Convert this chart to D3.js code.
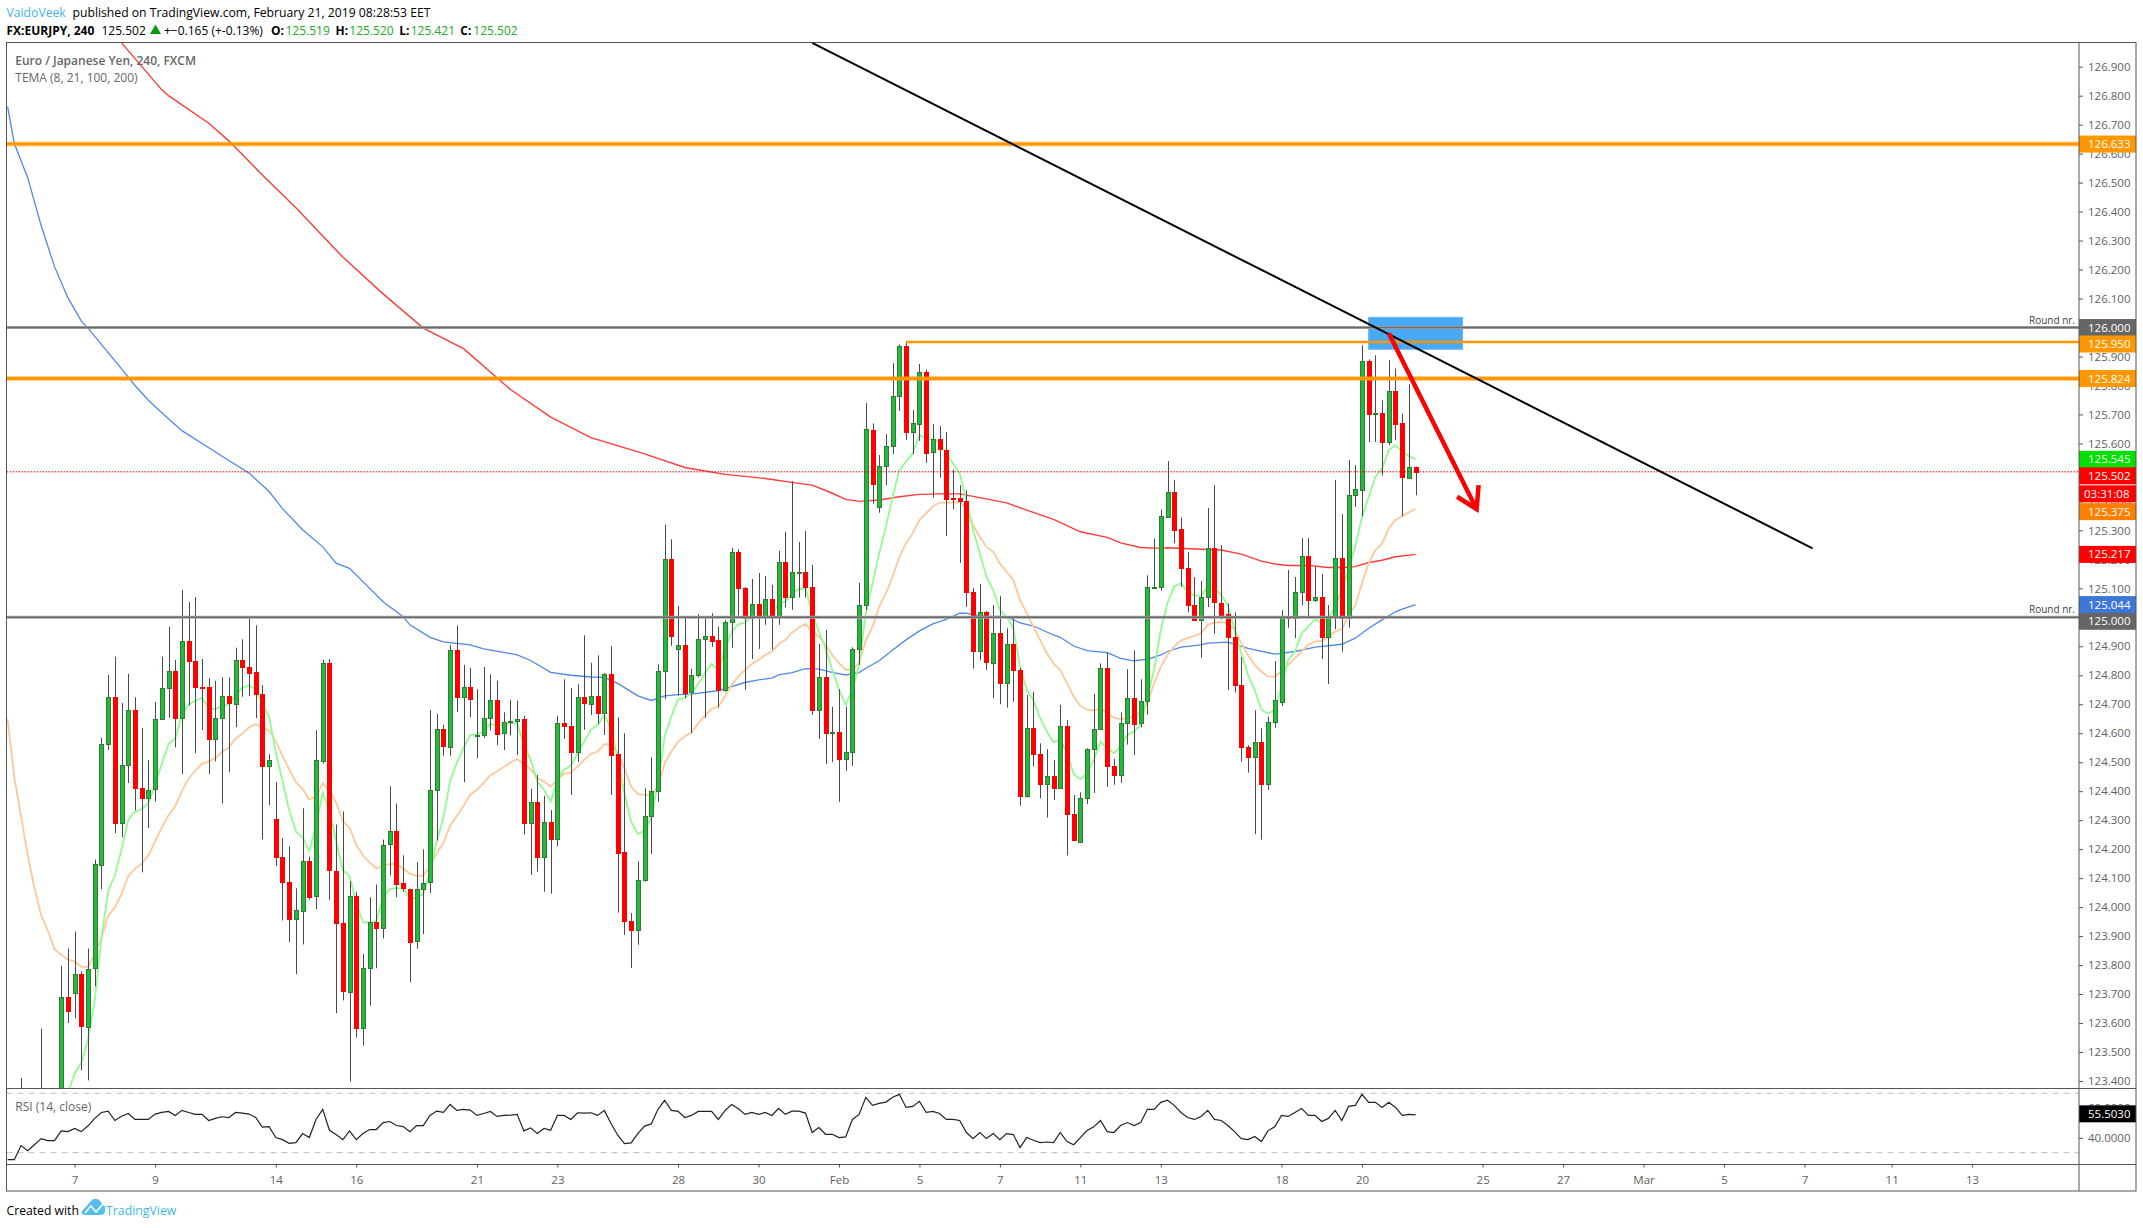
<!DOCTYPE html>
<html><head><meta charset="utf-8">
<script src="https://cdn.jsdelivr.net/npm/d3@7"></script>
<style>html,body{margin:0;padding:0;background:#fff}svg{display:block}
text{font-family:"Open Sans","Liberation Sans",sans-serif}</style></head>
<body><script>
const opens=[123.20,123.15,123.10,123.30,123.20,123.28,123.34,123.30,123.33,123.691,
123.703,123.768,123.589,123.788,124.146,124.561,124.724,124.288,124.489,124.680,
124.412,124.377,124.405,124.647,124.754,124.814,124.651,124.917,124.848,124.758,
124.758,124.578,124.651,124.727,124.703,124.854,124.830,124.810,124.734,124.487,
124.305,124.174,124.087,123.959,123.987,124.160,124.036,124.505,124.841,124.125,
123.946,123.710,124.040,123.583,123.790,123.950,123.928,124.215,124.261,124.082,
124.064,123.883,124.064,124.084,124.403,124.613,124.553,124.886,124.723,124.758,
124.593,124.594,124.651,124.714,124.599,124.638,124.641,124.648,124.288,124.362,
124.171,124.293,124.233,124.635,124.624,124.533,124.724,124.702,124.728,124.668,
124.804,124.528,124.189,123.952,123.921,124.092,124.314,124.399,124.813,125.201,
124.889,124.904,124.740,124.799,124.923,124.936,124.921,124.747,124.982,125.224,
125.100,124.996,125.045,125.000,125.062,125.002,125.190,125.068,125.154,125.155,
125.104,124.678,124.793,124.601,124.603,124.509,124.533,124.889,125.040,125.648,
125.379,125.521,125.590,125.762,125.935,125.637,125.669,125.848,125.568,125.614,
125.579,125.411,125.410,125.400,125.086,124.881,125.017,124.843,124.945,124.771,
124.907,124.818,124.382,124.617,124.527,124.423,124.452,124.409,124.624,124.321,
124.224,124.376,124.545,124.614,124.824,124.486,124.454,124.634,124.721,124.633,
124.709,125.101,125.102,125.347,125.434,125.303,125.169,125.041,124.988,125.068,
125.238,125.051,125.011,124.931,124.765,124.551,124.516,124.568,124.422,124.636,
124.706,125.003,124.995,125.085,125.210,125.057,125.069,124.930,124.999,125.203,
124.996,125.421,125.441,125.886,125.702,125.706,125.605,125.782,125.669,125.481,125.519];
const closes=[123.15,123.10,123.30,123.20,123.28,123.34,123.30,123.33,123.691,123.644,
123.768,123.589,123.788,124.147,124.562,124.724,124.288,124.489,124.680,124.412,
124.377,124.405,124.648,124.755,124.814,124.651,124.917,124.848,124.758,124.756,
124.578,124.651,124.727,124.702,124.854,124.830,124.809,124.734,124.487,124.506,
124.174,124.087,123.959,123.989,124.160,124.036,124.506,124.842,124.125,123.946,
123.710,124.040,123.583,123.790,123.950,123.928,124.215,124.261,124.078,124.064,
123.881,124.064,124.084,124.403,124.613,124.553,124.886,124.723,124.758,124.716,
124.594,124.651,124.714,124.598,124.638,124.641,124.648,124.288,124.362,124.171,
124.293,124.233,124.635,124.623,124.533,124.724,124.702,124.728,124.668,124.804,
124.526,124.188,123.952,123.921,124.093,124.314,124.400,124.814,125.201,124.934,
124.904,124.740,124.800,124.924,124.935,124.920,124.747,124.983,125.224,125.099,
124.996,125.045,124.999,125.062,125.002,125.190,125.068,125.155,125.155,125.103,
124.678,124.793,124.599,124.603,124.509,124.534,124.890,125.042,125.649,125.462,
125.521,125.590,125.762,125.935,125.637,125.669,125.848,125.568,125.614,125.578,
125.409,125.409,125.399,125.085,124.881,125.017,124.843,124.945,124.772,124.907,
124.816,124.382,124.617,124.526,124.423,124.452,124.409,124.624,124.319,124.230,
124.376,124.545,124.614,124.824,124.485,124.454,124.634,124.721,124.633,124.710,
125.104,125.104,125.348,125.434,125.302,125.168,125.040,124.988,125.069,125.238,
125.050,125.009,124.930,124.764,124.550,124.516,124.568,124.422,124.637,124.713,
125.003,124.995,125.086,125.210,125.057,125.069,124.930,125.000,125.203,124.996,
125.421,125.441,125.886,125.702,125.705,125.605,125.782,125.667,125.481,125.520,125.502];
const highs=[123.28,123.22,123.41,123.34,123.33,123.58,123.36,123.36,123.798,123.857,
123.916,123.778,123.857,124.164,124.585,124.801,124.864,124.704,124.805,124.724,
124.617,124.507,124.708,124.864,124.967,124.853,125.095,125.053,125.070,124.856,
124.790,124.781,124.793,124.793,124.895,124.924,125.000,124.972,124.766,124.527,
124.431,124.238,124.210,124.065,124.341,124.174,124.610,124.853,124.856,124.285,
124.330,124.089,124.053,123.839,124.034,124.078,124.233,124.417,124.358,124.179,
124.064,124.155,124.199,124.680,124.667,124.629,124.904,124.972,124.836,124.825,
124.752,124.829,124.803,124.781,124.672,124.715,124.712,124.660,124.408,124.456,
124.384,124.335,124.660,124.786,124.756,124.769,124.938,124.843,124.869,124.807,
124.900,124.655,124.600,123.979,124.158,124.410,124.517,124.838,125.319,125.269,
125.039,124.999,124.822,125.011,124.999,125.014,124.967,124.990,125.239,125.235,
125.104,125.132,125.153,125.143,125.112,125.229,125.295,125.470,125.260,125.298,
125.181,124.908,124.957,124.691,124.752,124.691,124.896,125.119,125.739,125.669,
125.560,125.632,125.877,125.942,125.947,125.715,125.874,125.855,125.667,125.660,
125.639,125.510,125.456,125.438,125.102,125.115,125.022,125.042,125.073,124.962,
124.999,124.825,124.732,124.743,124.565,124.545,124.508,124.698,124.645,124.387,
124.396,124.548,124.736,124.841,124.879,124.511,124.672,124.821,124.886,124.786,
125.145,125.272,125.372,125.539,125.474,125.345,125.225,125.139,125.125,125.377,
125.456,125.249,125.048,125.017,124.863,124.559,124.679,124.617,124.657,124.849,
125.025,125.163,125.139,125.273,125.273,125.175,125.149,125.042,125.474,125.356,
125.543,125.525,125.939,125.890,125.904,125.749,125.887,125.858,125.703,125.804,125.520];
const lows=[123.12,123.05,123.05,123.15,123.15,123.25,123.20,123.25,123.25,123.600,
123.616,123.437,123.402,123.727,124.062,124.542,124.255,124.241,124.428,124.334,
124.120,124.273,124.364,124.647,124.653,124.551,124.459,124.696,124.531,124.610,
124.459,124.503,124.358,124.466,124.621,124.726,124.728,124.652,124.234,124.352,
124.141,123.954,123.879,123.768,123.871,124.026,123.993,124.495,124.024,123.634,
123.678,123.398,123.550,123.522,123.660,123.789,123.892,124.109,124.034,124.053,
123.741,123.856,123.906,124.049,124.230,124.522,124.522,124.673,124.431,124.656,
124.513,124.584,124.609,124.559,124.542,124.592,124.525,124.250,124.111,124.122,
124.053,124.047,124.209,124.580,124.387,124.501,124.612,124.663,124.632,124.594,
124.387,123.981,123.904,123.790,123.870,124.088,124.184,124.364,124.718,124.902,
124.730,124.722,124.601,124.792,124.653,124.898,124.689,124.743,124.894,125.005,
124.750,124.856,124.891,124.974,124.888,124.974,125.034,125.026,125.068,125.068,
124.663,124.580,124.494,124.500,124.363,124.470,124.487,124.836,125.025,125.392,
125.361,125.456,125.563,125.712,125.611,125.563,125.609,125.533,125.413,125.482,
125.281,125.373,125.188,125.036,124.823,124.852,124.818,124.72,124.70,124.689,
124.709,124.350,124.378,124.485,124.375,124.309,124.370,124.409,124.178,124.230,
124.224,124.356,124.394,124.611,124.415,124.422,124.429,124.561,124.525,124.620,
124.664,125.100,125.092,125.344,125.256,125.105,125.018,124.988,124.861,125.035,
124.943,124.992,124.749,124.740,124.502,124.464,124.252,124.233,124.404,124.619,
124.694,124.964,124.928,125.042,125.002,125.053,124.856,124.770,124.959,124.881,
124.964,125.381,125.349,125.605,125.605,125.489,125.594,125.611,125.349,125.481,125.421];

// TEMA 8, one value per candle from candle 9
const tema8First=9;
const tema8=[123.36,123.426,123.463,123.544,123.678,123.892,124.056,124.109,124.200,124.301,124.330,
124.337,124.359,124.421,124.495,124.562,124.582,124.663,124.699,124.712,124.723,
124.685,124.683,124.694,124.699,124.730,124.756,124.766,124.750,124.703,124.656,
124.535,124.435,124.334,124.261,124.241,124.194,124.281,124.395,124.334,124.227,
124.127,124.107,124.013,123.948,123.946,123.952,124.033,124.062,124.066,124.064,
124.029,124.033,124.046,124.120,124.227,124.308,124.435,124.498,124.549,124.594,
124.596,124.605,124.632,124.626,124.631,124.635,124.635,124.560,124.508,124.433,
124.405,124.364,124.439,124.474,124.487,124.531,124.571,124.612,124.629,124.663,
124.617,124.508,124.393,124.295,124.252,124.264,124.307,124.428,124.589,124.658,
124.718,124.721,124.738,124.770,124.807,124.839,124.818,124.888,124.951,124.976,
124.982,125.002,124.999,125.000,125.008,125.048,125.054,125.083,125.097,125.100,
125.014,124.951,124.893,124.819,124.750,124.698,124.750,124.836,125.014,125.117,
125.221,125.312,125.416,125.508,125.537,125.566,125.629,125.617,125.614,125.606,
125.566,125.531,125.497,125.405,125.301,125.221,125.140,125.094,125.025,125.002,
124.962,124.829,124.749,124.715,124.652,124.606,124.569,124.577,124.531,124.459,
124.441,124.462,124.508,124.571,124.548,124.531,124.554,124.594,124.606,124.629,
124.726,124.819,124.957,125.049,125.106,125.118,125.089,125.075,125.075,125.106,
125.100,125.077,125.043,124.957,124.876,124.801,124.749,124.681,124.667,124.681,
124.761,124.853,124.882,124.945,124.968,124.993,124.980,124.997,125.037,125.095,
125.164,125.244,125.346,125.415,125.484,125.513,125.577,125.594,125.571,125.556,125.545];
// TEMA 21, one value per candle
const tema21=[124.649,124.448,124.314,124.180,124.066,123.973,123.919,123.855,123.836,123.819,
123.812,123.794,123.794,123.839,123.892,123.970,123.999,124.046,124.107,124.133,
124.149,124.178,124.227,124.274,124.317,124.348,124.401,124.444,124.471,124.495,
124.502,124.515,124.535,124.551,124.581,124.598,124.620,124.631,124.621,124.609,
124.572,124.522,124.475,124.431,124.407,124.372,124.381,124.428,124.401,124.361,
124.297,124.274,124.214,124.178,124.154,124.133,124.144,124.149,124.147,124.133,
124.115,124.108,124.109,124.140,124.187,124.221,124.281,124.314,124.350,124.388,
124.405,124.428,124.455,124.468,124.483,124.499,124.510,124.494,124.476,124.445,
124.433,124.416,124.439,124.460,124.464,124.485,124.508,124.529,124.537,124.562,
124.562,124.531,124.479,124.416,124.390,124.387,124.386,124.416,124.497,124.537,
124.571,124.589,124.602,124.634,124.660,124.684,124.692,124.727,124.767,124.796,
124.819,124.839,124.853,124.870,124.882,124.908,124.922,124.947,124.965,124.977,
124.951,124.934,124.905,124.870,124.842,124.819,124.819,124.842,124.921,124.967,
125.037,125.083,125.140,125.209,125.255,125.290,125.336,125.359,125.382,125.396,
125.396,125.396,125.399,125.376,125.318,125.278,125.243,125.226,125.186,125.157,
125.129,125.060,125.014,124.968,124.921,124.876,124.841,124.818,124.773,124.727,
124.695,124.681,124.678,124.686,124.669,124.654,124.649,124.652,124.657,124.675,
124.703,124.773,124.830,124.870,124.899,124.920,124.928,124.936,124.945,124.974,
124.982,124.983,124.980,124.957,124.911,124.870,124.836,124.813,124.795,124.795,
124.813,124.836,124.859,124.882,124.905,124.916,124.919,124.933,124.951,124.959,
125.008,125.040,125.117,125.186,125.232,125.255,125.307,125.336,125.349,125.362,125.375];
// TEMA 100, read at its bends
const tema100Idx=[0,1,3,5,7,9,11,12,15,17,19,21,23,26,30,33,36,39,41,44,47,49,51,53,56,59,60,63,65,69,71,74,76,78,81,84,87,89,91,94,96,98,100,102,105,106,110,112,114,115,117,119,121,123,125,127,128,130,132,134,136,138,140,142,143,144,146,149,151,153,156,157,159,161,164,166,168,170,172,173,175,178,179,182,185,189,192,195,199,201,203,205,207,208,210];
const tema100=[126.762,126.635,126.517,126.352,126.210,126.102,126.022,125.998,125.913,125.857,125.800,125.749,125.706,125.644,125.585,125.541,125.498,125.434,125.375,125.302,125.243,125.187,125.169,125.123,125.054,125.002,124.974,124.931,124.915,124.905,124.891,124.879,124.870,124.851,124.810,124.800,124.794,124.793,124.772,124.729,124.713,124.729,124.733,124.735,124.744,124.747,124.775,124.784,124.790,124.801,124.809,124.823,124.821,124.810,124.801,124.809,124.824,124.850,124.887,124.922,124.953,124.977,124.993,125.014,125.014,125.008,125.004,125.002,124.981,124.970,124.939,124.931,124.901,124.885,124.878,124.858,124.850,124.855,124.870,124.882,124.897,124.905,124.911,124.914,124.893,124.873,124.882,124.897,124.907,124.928,124.962,124.991,125.019,125.028,125.044];
// TEMA 200, read at its bends
const tema200Idx=[15,17,23,24,30,33,38,43,50,56,62,68,75,81,87,95,101,107,113,118,120,123,125,127,130,133,136,139,142,145,149,152,156,160,164,166,169,172,173,179,181,184,187,189,191,194,197,199,201,203,205,207,210];
const tema200=[127.03,126.982,126.820,126.800,126.705,126.644,126.526,126.413,126.243,126.116,125.998,125.927,125.786,125.691,125.620,125.564,125.517,125.493,125.479,125.462,125.456,125.428,125.407,125.400,125.405,125.416,125.424,125.426,125.426,125.413,125.395,125.370,125.338,125.295,125.276,125.257,125.241,125.238,125.240,125.234,125.232,125.218,125.194,125.184,125.179,125.179,125.172,125.172,125.175,125.189,125.197,125.209,125.217];
// RSI (14, close), one value per candle
const rsi=[25.3,25.3,34.8,31.4,35.4,39.5,38.1,38.1,44.7,44.2,46.3,44.2,48.1,53.1,57.1,58.0,51.7,54.6,56.4,52.4,
52.4,52.4,56.0,57.1,57.8,55.1,58.5,57.1,55.8,55.8,51.7,53.1,54.2,53.7,57.1,56.7,56.0,53.7,47.2,47.6,
40.2,38.8,36.3,36.8,42.9,40.2,52.4,59.2,45.1,42.2,38.8,44.7,38.8,42.9,45.6,45.6,50.3,51.0,48.3,47.6,
44.2,48.3,48.3,55.1,58.0,57.1,62.5,58.5,59.2,58.7,55.1,56.4,57.8,54.4,55.1,55.3,55.8,44.7,46.7,42.9,
46.3,45.1,55.1,55.1,52.4,56.9,56.7,56.9,55.1,58.5,49.7,41.8,36.1,36.6,42.9,47.9,49.4,59.2,65.3,58.5,
57.8,53.7,55.1,57.8,57.8,57.8,52.4,58.3,62.5,59.6,55.8,57.1,55.8,57.1,55.1,59.8,55.8,58.0,58.0,56.7,
43.6,47.0,42.4,42.4,40.2,40.6,52.4,55.8,67.3,61.9,63.2,64.1,67.3,69.3,60.5,61.2,64.6,57.1,57.8,56.4,
52.4,52.4,51.7,43.6,39.5,43.6,39.5,42.9,38.8,42.9,42.2,33.4,40.2,38.4,36.8,37.2,36.8,43.6,37.5,35.4,
40.2,44.9,47.4,51.7,44.2,43.6,48.3,50.3,48.3,50.3,59.2,59.2,63.9,65.3,61.9,57.1,53.7,52.4,54.4,58.5,
52.4,51.7,48.3,44.2,39.5,38.8,40.9,37.5,44.9,47.4,55.1,54.4,57.1,59.8,55.1,55.1,51.0,53.1,58.5,51.7,
61.2,61.9,69.3,63.9,63.9,60.5,63.9,60.5,55.1,55.8,55.5];

const priceTicks=d3.range(34,70).map(k=>k/10+120);
const dateTicks=[10,22,40,52,70,82,100,112,124,136,148,160,172,190,202,220,232,244,256,268,281,293];
const dateLabels=["7","9","14","16","21","23","28","30","Feb","5","7","11","13","18","20","25","27","Mar","5","7","11","13"];
const rsiTicks=[40,60];
const roundLevels=[126,125];
const thickLevels=[126.633,125.824];
const sideLevel=125.95, sideStart=134;
const lastClose=125.502;
const trendIdx=[120,269.2], trendPrice=[126.982,125.238];
const boxIdx=[203,217], boxPrice=[126.035,125.925];
const arrowIdx=[206,219.1], arrowPrice=[125.980,125.373];
const arrowHeadIdx=[216.2,219.1,219.4], arrowHeadPrice=[125.416,125.373,125.456];
const priceTags=[["126.633",126.633,"#ff9800",0],["126.000",126,"#666666",0],["125.950",125.95,"#ff9800",2],["125.824",125.824,"#ff9800",0],
["125.545",125.545,"#00e000",0],["125.502",125.502,"#ff0000",4],["03:31:08",125.502,"#ff0000",22],["125.375",125.375,"#ff8000",3],["125.217",125.217,"#ff0000",0],["125.044",125.044,"#3d78d8",0],["125.000",125,"#666666",4]];

const W=2143,H=1228,L=6.5,PR=2079,OR=2136,T=42.5,MB=1088.5,RB=1164.5,B=1191;
const svg=d3.select("body").append("svg").attr("width",W).attr("height",H);
const x=d3.scaleLinear().domain([0,210]).range([7.6,1415.6]);
const y=d3.scaleLinear().domain([125,126]).range([617.3,327.5]);
const yr=d3.scaleLinear().domain([30,70]).range([1152.7,1093.3]);
const defs=svg.append("defs");
defs.append("clipPath").attr("id","mainClip").append("rect").attr("x",L).attr("y",T).attr("width",PR-L).attr("height",MB-T);
const px=i=>Math.round(x(i))+.5;

const main=svg.append("g").attr("clip-path","url(#mainClip)");
const ln=d3.line().x(d=>x(d[0])).y(d=>y(d[1]));
const zipFrom=(arr,first)=>arr.map((v,k)=>[k+first,v]);
main.append("path").datum(tema200Idx.map((k,j)=>[k,tema200[j]])).attr("d",ln).attr("fill","none").attr("stroke","#ff3b3b").attr("stroke-width",1.4);
main.append("path").datum(tema100Idx.map((k,j)=>[k,tema100[j]])).attr("d",ln).attr("fill","none").attr("stroke","#5089e6").attr("stroke-width",1.3);
main.append("path").datum(zipFrom(tema21,0)).attr("d",ln).attr("fill","none").attr("stroke","#ffc89b").attr("stroke-width",1.8);
main.append("path").datum(zipFrom(tema8,tema8First)).attr("d",ln).attr("fill","none").attr("stroke","#92fb92").attr("stroke-width",1.8);

const idx=d3.range(opens.length);
main.append("g").selectAll("line").data(idx).join("line")
 .attr("x1",px).attr("x2",px).attr("y1",i=>y(highs[i])).attr("y2",i=>y(lows[i]))
 .attr("stroke","#4a4a4a").attr("stroke-width",1);
main.append("g").selectAll("rect").data(idx).join("rect")
 .attr("x",i=>px(i)-2).attr("width",4)
 .attr("y",i=>Math.round(y(Math.max(opens[i],closes[i])))+.5)
 .attr("height",i=>Math.max(1,Math.round(Math.abs(y(opens[i])-y(closes[i])))))
 .attr("fill",i=>closes[i]>=opens[i]?"#24b83f":"#ff0000")
 .attr("stroke",i=>closes[i]>=opens[i]?"#2f7d2f":"#ff0000").attr("stroke-width",1);

// drawing tools
main.append("rect").attr("x",x(boxIdx[0])).attr("width",x(boxIdx[1])-x(boxIdx[0]))
 .attr("y",y(boxPrice[0])).attr("height",y(boxPrice[1])-y(boxPrice[0]))
 .attr("fill","#2196f3").attr("fill-opacity",.82).attr("stroke","#64b5f6").attr("stroke-width",1);
main.selectAll(".rlb").data(roundLevels).join("line").attr("x1",L).attr("x2",PR).attr("y1",d=>y(d)).attr("y2",d=>y(d)).attr("stroke","#a8a8a8").attr("stroke-width",3);
main.selectAll(".rl").data(roundLevels).join("line").attr("x1",L).attr("x2",PR).attr("y1",d=>y(d)).attr("y2",d=>y(d)).attr("stroke","#6a6a6a").attr("stroke-width",1.5);
main.selectAll(".tlb").data(thickLevels).join("line").attr("x1",L).attr("x2",PR).attr("y1",d=>y(d)).attr("y2",d=>y(d)).attr("stroke","#ff9800").attr("stroke-opacity",.45).attr("stroke-width",5);
main.selectAll(".tl").data(thickLevels).join("line").attr("x1",L).attr("x2",PR).attr("y1",d=>y(d)).attr("y2",d=>y(d)).attr("stroke","#ff9800").attr("stroke-width",3);
main.append("line").attr("x1",x(sideStart)).attr("x2",PR).attr("y1",y(sideLevel)).attr("y2",y(sideLevel)).attr("stroke","#ff9800").attr("stroke-width",2.5);
main.append("line").attr("x1",L).attr("x2",PR).attr("y1",y(lastClose)).attr("y2",y(lastClose)).attr("stroke","#e00000").attr("stroke-width",1).attr("stroke-dasharray","1.5,1.5");
main.append("line").attr("x1",x(trendIdx[0])).attr("x2",x(trendIdx[1])).attr("y1",y(trendPrice[0])).attr("y2",y(trendPrice[1])).attr("stroke","#000").attr("stroke-width",2);
main.append("line").attr("x1",x(arrowIdx[0])).attr("x2",x(arrowIdx[1])).attr("y1",y(arrowPrice[0])).attr("y2",y(arrowPrice[1])).attr("stroke","#ff0000").attr("stroke-width",4.5);
main.append("path").attr("d",d3.line().x(d=>x(d[0])).y(d=>y(d[1]))(arrowHeadIdx.map((k,j)=>[k,arrowHeadPrice[j]]))).attr("fill","none").attr("stroke","#ff0000").attr("stroke-width",4.5);
main.selectAll(".rn").data(roundLevels).join("text").attr("x",PR-4).attr("y",d=>y(d)-4).attr("text-anchor","end").attr("font-size",10).attr("fill","#444").text("Round nr.");

// RSI pane
svg.selectAll(".rd").data([70,30]).join("line").attr("x1",L).attr("x2",PR).attr("y1",d=>yr(d)).attr("y2",d=>yr(d)).attr("stroke","#bdbdbd").attr("stroke-width",1).attr("stroke-dasharray","6,5");
svg.append("path").datum(rsi).attr("fill","none").attr("stroke","#222").attr("stroke-width",1.2)
 .attr("d",d3.line().x((d,i)=>x(i)).y(d=>yr(d)));

// axes
const greyT="#5f5f5f";
const axR=d3.axisRight(y).tickValues(priceTicks).tickFormat(d3.format(".3f")).tickSize(4).tickPadding(5);
const gR=svg.append("g").attr("transform",`translate(${PR},0)`).call(axR);
const axRr=d3.axisRight(yr).tickValues(rsiTicks).tickFormat(d3.format(".4f")).tickSize(4).tickPadding(5);
const gRr=svg.append("g").attr("transform",`translate(${PR},0)`).call(axRr);
const axB=d3.axisBottom(x).tickValues(dateTicks).tickFormat((d,i)=>dateLabels[i]).tickSize(3).tickPadding(8);
const gB=svg.append("g").attr("transform",`translate(0,${RB})`).call(axB);
[gR,gRr,gB].forEach(g=>{g.select(".domain").remove();g.selectAll("line").attr("stroke","#555");g.selectAll("text").attr("fill",greyT).attr("font-size",11.5).attr("font-family",'"Liberation Sans",sans-serif');});

// price tags
const tags=svg.append("g").selectAll("g").data(priceTags).join("g").attr("transform",d=>`translate(${PR},${y(d[1])+d[3]})`);
tags.append("rect").attr("x",0).attr("y",-8.5).attr("width",OR-PR).attr("height",17).attr("fill",d=>d[2]);
tags.append("text").attr("x",d=>d[0].includes(":")?5:9).attr("y",4).attr("fill","#fff").attr("font-size",11.5).attr("font-family",'"Liberation Sans",sans-serif').text(d=>d[0]);
const rt=svg.append("g").attr("transform",`translate(${PR},${yr(rsi[rsi.length-1])-1})`);
rt.append("rect").attr("y",-8.5).attr("width",OR-PR).attr("height",17).attr("fill","#000");
rt.append("text").attr("x",9).attr("y",4).attr("fill","#fff").attr("font-size",11.5).attr("font-family",'"Liberation Sans",sans-serif').text("55.5030");

// frame
const fr=svg.append("g").attr("fill","none").attr("stroke","#555").attr("stroke-width",1);
fr.append("rect").attr("x",L).attr("y",T).attr("width",OR-L).attr("height",B-T);
fr.append("line").attr("x1",PR).attr("x2",PR).attr("y1",T).attr("y2",B);
fr.append("line").attr("x1",L).attr("x2",OR).attr("y1",MB).attr("y2",MB);
fr.append("line").attr("x1",L).attr("x2",OR).attr("y1",RB).attr("y2",RB);

// texts
const tx=(xp,yp,s,o={})=>svg.append("text").attr("x",xp).attr("y",yp).attr("font-size",o.size||12).attr("fill",o.fill||"#000").attr("font-weight",o.weight||"normal").text(s);
tx(15.3,65,"Euro / Japanese Yen, 240, FXCM",{fill:"#666",weight:600});
tx(15.3,82,"TEMA (8, 21, 100, 200)",{fill:"#666"});
tx(15.3,1111,"RSI (14, close)",{fill:"#666"});
tx(6.5,16.5,"VaidoVeek",{fill:"#3fb4e8",size:12.2});
tx(72.5,16.5,"published on TradingView.com, February 21, 2019 08:28:53 EET",{size:12.2});
tx(6.5,34.5,"FX:EURJPY, 240",{weight:700});
tx(101.5,34.5,"125.502");
svg.append("path").attr("d","M150,34 L155.5,24.5 L161,34 Z").attr("fill","#089a08");
tx(164,34.5,"+−0.165 (+-0.13%)");
const gc="#22a82a";
[["O:",271,"125.519",285.5],["H:",335.5,"125.520",349.3],["L:",399.3,"125.421",410.7],["C:",460.3,"125.502",473.3]].forEach(r=>{
 tx(r[1],34.5,r[0],{weight:700});tx(r[3],34.5,r[2],{fill:gc});});
tx(6.5,1214.5,"Created with",{size:12.2});
tx(106,1214.5,"TradingView",{fill:"#43b7ea",size:12.3});
svg.append("path").attr("d","M82,1211 L92,1200 Q96,1197 100,1201 L105,1207 Q106,1215 101,1215 L86,1215 Q80,1215 82,1211 Z").attr("fill","#57bdec");
svg.append("path").attr("d","M85,1213 L91,1206 L96,1212 L103,1204").attr("fill","none").attr("stroke","#fff").attr("stroke-width",1.5);
</script></body></html>
